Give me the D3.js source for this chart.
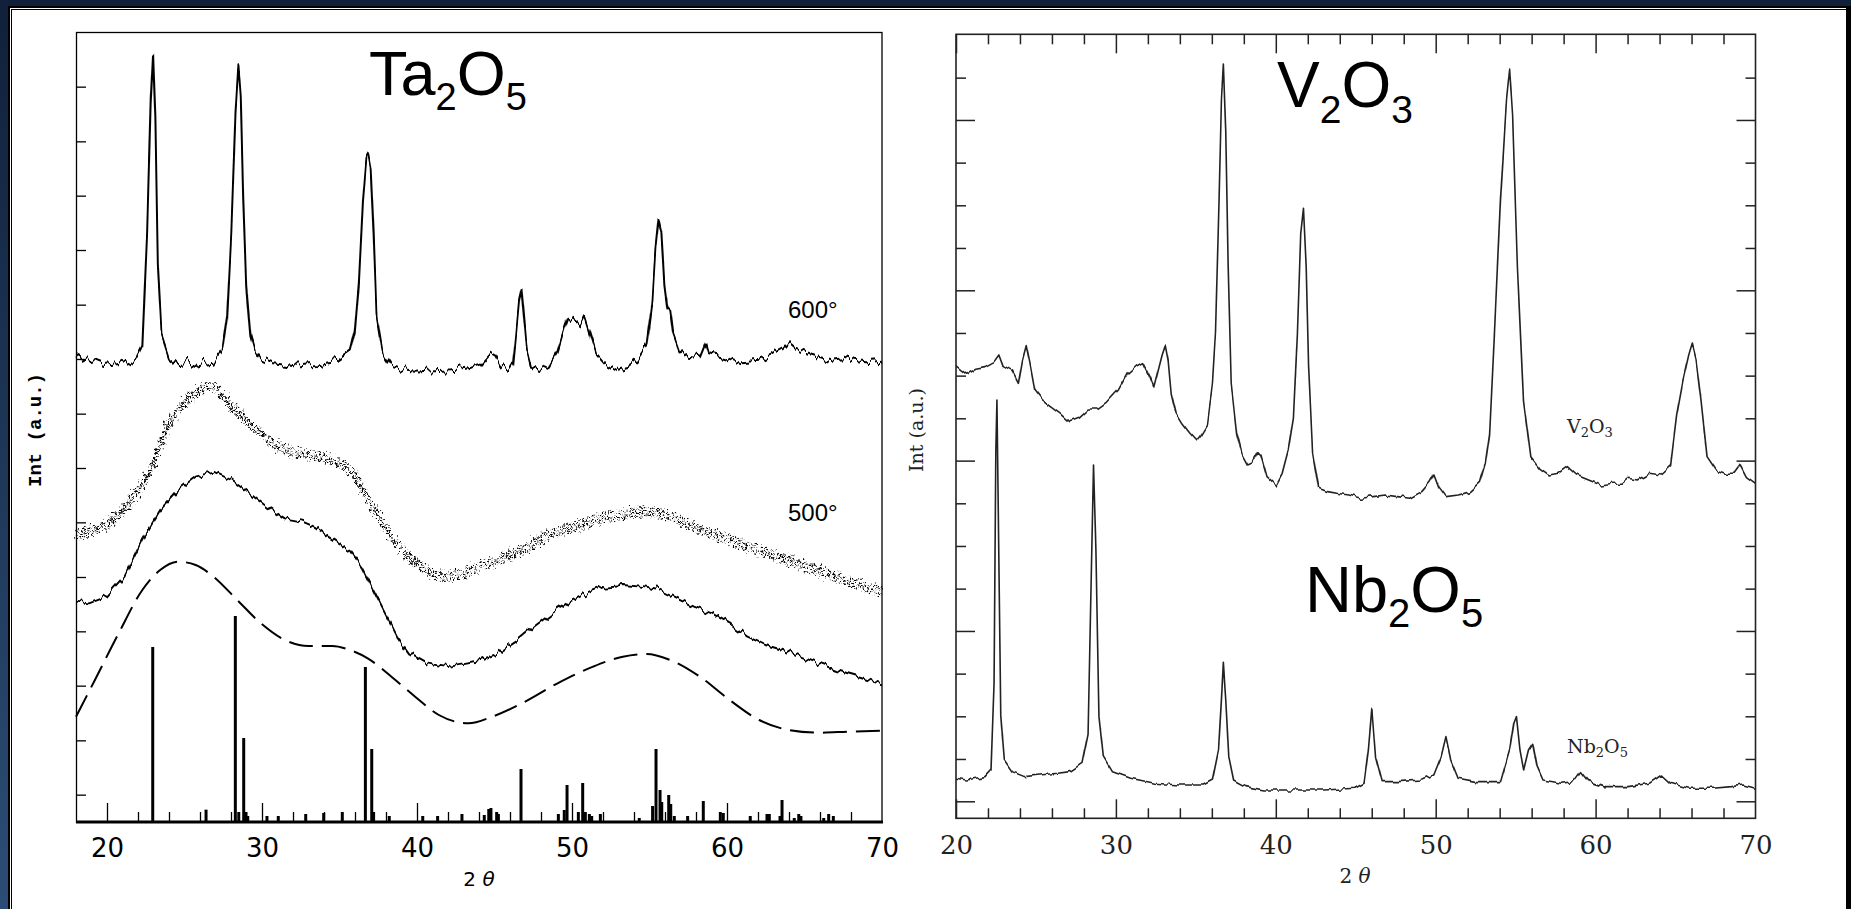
<!DOCTYPE html>
<html><head><meta charset="utf-8">
<script src="https://cdn.jsdelivr.net/npm/d3@7"></script>
<style>body{margin:0;background:#fff;overflow:hidden}</style>
</head><body>
<svg id="c" width="1851" height="909"></svg>
<script>
// ---------------- LEFT PANEL (Ta2O5) ----------------
const ta600X = [18.0,18.6,19.22,19.8,20.75,21.3,21.9,22.28,22.59,22.82,22.97,23.12,23.28,23.51,24.0,24.58,25.2,25.72,26.3,26.87,27.45,27.75,28.02,28.29,28.48,28.63,28.79,28.98,29.25,29.55,29.93,30.7,31.5,32.23,33.0,33.76,34.3,34.91,35.67,35.98,36.25,36.51,36.74,36.86,37.01,37.2,37.39,37.78,38.35,39.1,39.88,40.6,41.41,42.2,42.94,43.5,44.09,44.67,45.05,45.43,45.93,46.2,46.39,46.59,46.74,46.89,47.08,47.35,47.92,48.5,49.07,49.45,49.76,50.22,50.5,50.79,51.17,51.56,52.13,52.9,53.66,54.24,54.81,55.19,55.38,55.58,55.77,55.96,56.15,56.34,56.53,56.91,57.49,58.25,58.64,58.83,59.78,60.93,62.08,62.84,63.61,63.99,64.38,65.14,65.91,66.67,67.44,68.2,68.97,70.0];
const ta600Y = [1401,1386,1391,1380,1386,1378,1391,1426,1766,2166,2306,2116,1666,1466,1396,1376,1380,1371,1378,1381,1416,1516,1766,2116,2261,2166,1866,1616,1466,1416,1391,1376,1372,1366,1370,1371,1376,1381,1406,1466,1616,1866,1996,2006,1966,1766,1516,1406,1366,1355,1351,1354,1356,1358,1361,1366,1376,1406,1396,1366,1356,1376,1466,1566,1596,1516,1416,1366,1356,1371,1416,1476,1516,1506,1495,1521,1466,1406,1376,1356,1366,1386,1426,1566,1716,1806,1766,1616,1546,1536,1466,1416,1396,1391,1436,1406,1396,1376,1381,1396,1416,1436,1421,1406,1396,1386,1391,1381,1376,1381];

const ta500dotX = [18.0,19.22,20.75,21.9,23.05,23.81,24.58,25.72,26.68,27.64,29.17,30.7,32.23,33.76,34.91,36.05,36.82,37.58,38.35,39.49,40.64,41.6,42.75,43.71,45.24,46.77,48.3,49.83,51.36,52.9,54.43,55.58,57.11,58.64,60.17,61.7,63.23,64.76,66.67,68.58,70.0];
const ta500dotY = [861,876,921,986,1080,1176,1236,1286,1311,1266,1196,1136,1106,1096,1076,1036,966,916,856,796,756,736,741,761,786,816,856,881,906,921,931,926,901,871,846,821,796,771,741,711,691];

const taSolidX = [18.0,18.84,19.99,21.13,22.28,23.43,24.58,25.72,26.87,28.02,29.17,30.32,31.47,32.61,33.38,34.53,35.67,36.44,37.2,37.97,38.73,39.49,40.64,41.79,42.94,44.09,45.24,46.39,47.54,48.69,49.83,50.98,52.13,53.28,54.43,55.58,56.72,57.87,59.02,60.17,61.32,62.47,63.61,64.76,65.91,67.06,68.2,70.0];
const taSolidY = [661,656,676,736,846,936,996,1036,1051,1026,986,946,911,901,886,851,816,766,696,626,556,506,476,466,476,486,506,541,586,626,661,686,706,711,706,696,671,646,626,596,556,531,516,496,476,456,441,416];

const taDashX = [18.0,19.22,20.75,22.28,23.43,24.58,25.72,26.87,28.4,29.93,31.47,33.0,34.53,35.67,36.82,38.35,39.88,41.41,43.32,44.86,46.77,49.07,51.36,53.28,54.81,56.34,58.25,60.17,62.08,63.99,65.91,67.82,70.0];
const taDashY = [316,426,566,696,756,781,771,736,666,596,546,528,528,516,491,436,376,321,296,316,356,416,466,496,504,486,436,366,306,276,268,271,274];

const stickX = [22.95,26.39,28.28,28.5,28.82,28.97,29.08,30.32,31.05,32.82,33.98,35.18,36.67,37.08,37.2,38.21,40.37,41.33,42.9,44.34,44.63,44.77,45.14,45.25,46.71,49.12,49.5,49.68,50.41,50.69,50.86,51.12,51.27,51.83,54.34,55.2,55.42,55.68,55.79,56.24,56.37,56.6,57.46,58.47,59.57,59.76,61.5,62.58,62.73,63.42,63.55,64.34,64.63,64.77,66.24,66.56,66.86];
const stickH = [525,37,618,30,252,30,18,18,18,24,27,30,465,219,30,18,18,18,24,21,39,42,30,24,159,24,36,111,30,117,30,24,18,24,12,48,219,96,60,81,54,18,18,63,30,27,18,24,24,18,66,12,24,18,12,24,18];

const leftYTicks = [82,245,409,572,735,899,1062,1225,1389,1552,1716,1879,2042,2206];
const leftXLabels = [20,30,40,50,60,70];

// ---------------- RIGHT PANEL (V2O3 / Nb2O5) ----------------
const v2o3X = [20.0,20.67,21.24,21.81,22.38,22.68,22.95,23.52,23.9,24.16,24.39,24.62,24.92,25.41,25.98,26.55,27.12,27.69,28.26,28.83,29.4,30.16,30.72,31.29,31.67,32.13,32.36,32.89,33.08,33.27,33.46,33.76,34.14,34.63,35.01,35.35,35.73,36.04,36.23,36.45,36.6,36.72,36.87,37.02,37.21,37.55,37.9,38.24,38.5,38.88,39.07,39.45,40.02,40.4,40.78,41.1,41.35,41.56,41.73,41.9,42.05,42.3,42.68,43.24,43.81,44.57,45.33,46.09,46.85,47.61,48.37,49.13,49.58,49.89,50.19,50.65,51.41,52.17,52.74,53.1,53.37,53.67,54.05,54.43,54.62,54.81,55.11,55.49,55.95,56.52,57.09,57.66,58.23,58.8,59.56,60.32,61.08,61.65,62.03,62.6,63.36,64.12,64.69,65.07,65.45,65.83,66.05,66.28,66.59,66.97,67.53,68.1,68.67,69.05,69.43,70.0];
const v2o3Y = [1360,1335,1350,1355,1370,1390,1355,1340,1305,1375,1418,1365,1285,1255,1235,1215,1190,1200,1225,1225,1245,1285,1335,1360,1370,1325,1295,1395,1423,1375,1275,1215,1185,1155,1135,1155,1185,1305,1455,1855,2155,2260,2055,1655,1305,1155,1090,1060,1065,1100,1090,1025,1000,1035,1105,1200,1455,1755,1830,1655,1355,1100,990,980,975,970,960,965,970,965,960,980,1005,1033,995,965,970,980,1005,1065,1155,1455,1855,2155,2245,2105,1655,1255,1085,1050,1030,1035,1055,1030,1015,1000,1005,1005,1020,1015,1035,1030,1055,1205,1305,1385,1420,1375,1255,1085,1045,1035,1035,1060,1025,1005];

const nb2o5X = [20.0,20.67,21.24,21.81,22.19,22.38,22.49,22.56,22.65,22.8,23.02,23.52,24.28,25.23,26.37,27.12,27.88,28.26,28.45,28.6,28.75,28.94,29.21,29.78,30.92,32.43,33.95,35.47,36.04,36.42,36.6,36.72,36.87,37.06,37.36,38.12,39.26,41.16,43.05,44.95,45.52,45.79,46.01,46.24,46.65,47.61,49.13,49.88,50.34,50.64,50.94,51.4,52.54,54.06,54.63,54.89,55.05,55.27,55.5,55.8,56.07,56.34,56.71,57.85,58.61,59.06,59.56,60.51,62.03,63.36,64.12,64.69,65.83,67.35,68.49,69.24,70.0];
const nb2o5Y = [120,115,120,125,145,405,1100,1255,900,305,175,140,125,130,135,140,165,255,705,1060,805,305,185,140,120,105,100,100,115,205,355,465,355,185,115,95,85,85,85,90,105,205,330,185,110,110,115,130,185,245,175,120,110,110,205,285,305,205,145,205,225,155,115,105,110,140,110,95,95,105,130,105,90,90,95,100,90];

const rightYTicks = [51,178,306,434,562,689,817,945,1073,1200,1328,1456,1584,1711,1839,1967,2095,2222];
const rightXLabels = [20,30,40,50,60,70];
const minorX = [22,24,26,28,32,34,36,38,42,44,46,48,52,54,56,58,62,64,66,68];
const majorX = [20,30,40,50,60];

// ---------------- DRAW ----------------
const svg = d3.select("#c");
const defs = svg.append("defs");
const g0 = defs.append("linearGradient").attr("id","navy").attr("x1",0).attr("y1",0).attr("x2",0).attr("y2",1);
g0.append("stop").attr("offset","0").attr("stop-color","#10203a");
g0.append("stop").attr("offset","1").attr("stop-color","#2b4d75");

// line-texture filters (vertical jitter only; data untouched)
function jitterFilter(id, fx, scale, seed){
  const f = defs.append("filter").attr("id",id).attr("filterUnits","userSpaceOnUse")
    .attr("x",0).attr("y",0).attr("width",1851).attr("height",909)
    .attr("color-interpolation-filters","sRGB");
  f.append("feTurbulence").attr("type","fractalNoise").attr("baseFrequency",fx+" 0.004")
    .attr("numOctaves",2).attr("seed",seed).attr("result","t");
  f.append("feColorMatrix").attr("in","t").attr("type","matrix")
    .attr("values","0 0 0 0 0.5  0 1 0 0 0  0 0 0 0 0  0 0 0 0 1").attr("result","m");
  f.append("feDisplacementMap").attr("in","SourceGraphic").attr("in2","m")
    .attr("scale",scale).attr("xChannelSelector","R").attr("yChannelSelector","G");
}
jitterFilter("j600",0.22,16,3);
jitterFilter("jsol",0.2,11,7);
jitterFilter("jv",0.12,9,11);
jitterFilter("jn",0.14,7,5);
const fd = defs.append("filter").attr("id","scatter").attr("filterUnits","userSpaceOnUse")
  .attr("x",0).attr("y",0).attr("width",1851).attr("height",909).attr("color-interpolation-filters","sRGB");
fd.append("feTurbulence").attr("type","fractalNoise").attr("baseFrequency","0.35 0.35").attr("numOctaves",1).attr("seed",9).attr("result","t");
fd.append("feDisplacementMap").attr("in","SourceGraphic").attr("in2","t").attr("scale",14).attr("xChannelSelector","R").attr("yChannelSelector","G");

svg.append("rect").attr("width",1851).attr("height",909).attr("fill","url(#navy)");
svg.append("rect").attr("x",8).attr("y",6).attr("width",1843).attr("height",903).attr("fill","#000");
svg.append("rect").attr("x",10).attr("y",8).attr("width",1836).attr("height",901).attr("fill","#fff");
svg.append("rect").attr("x",11).attr("y",9).attr("width",1835).attr("height",900).attr("fill","#000");
svg.append("rect").attr("x",12).attr("y",10).attr("width",1834).attr("height",899).attr("fill","#fff");

// ===== left panel =====
const lx = d3.scaleLinear().domain([18,70]).range([76,882]);
const ly = d3.scaleLinear().domain([0,2370]).range([822,32]);
const L = svg.append("g");

L.append("rect").attr("x",76.5).attr("y",32.5).attr("width",805.5).attr("height",789.5)
  .attr("fill","none").attr("stroke","#000").attr("stroke-width",1.3);

const yAxL = L.append("g").attr("transform","translate(76,0)")
  .call(d3.axisRight(ly).tickValues(leftYTicks).tickSize(10).tickFormat(""));
const xMinL = L.append("g").attr("transform","translate(0,822)")
  .call(d3.axisTop(lx).tickValues(minorX).tickSize(10).tickFormat(""));
const xMajL = L.append("g").attr("transform","translate(0,822)")
  .call(d3.axisTop(lx).tickValues(majorX).tickSize(19).tickFormat(""));
[yAxL,xMinL,xMajL].forEach(a=>{a.select(".domain").remove(); a.selectAll("line").attr("stroke","#000").attr("stroke-width",1.3);});

L.append("line").attr("x1",76).attr("x2",883).attr("y1",822).attr("y2",822).attr("stroke","#000").attr("stroke-width",2.8);

const xLabL = L.append("g").attr("transform","translate(0,822)")
  .call(d3.axisBottom(lx).tickValues(leftXLabels).tickSize(0).tickPadding(17).tickFormat(d3.format("d")));
xLabL.select(".domain").remove();
xLabL.selectAll("text").attr("font-family","DejaVu Sans").attr("font-size",26).attr("fill","#000");

// sticks
L.append("g").selectAll("line").data(stickX).join("line")
  .attr("x1",d=>lx(d)).attr("x2",d=>lx(d))
  .attr("y1",ly(0)).attr("y2",(d,i)=>ly(stickH[i]))
  .attr("stroke","#000").attr("stroke-width",3);

const lineL = (xs,ys,c)=> d3.line().curve(c||d3.curveLinear).x((d,i)=>lx(xs[i])).y((d,i)=>ly(ys[i]))(xs);

L.append("path").attr("d",lineL(taDashX,taDashY,d3.curveMonotoneX)).attr("fill","none")
  .attr("stroke","#000").attr("stroke-width",2).attr("stroke-dasharray","24,9");
L.append("path").attr("d",lineL(taSolidX,taSolidY)).attr("fill","none").attr("filter","url(#jsol)")
  .attr("stroke","#000").attr("stroke-width",1.9).attr("stroke-linejoin","round");
const dots = L.append("g").attr("filter","url(#scatter)");
[-4,-1.5,1.5,4].forEach((off,k)=>{
  dots.append("path").attr("d",lineL(ta500dotX,ta500dotY,d3.curveMonotoneX)).attr("fill","none")
    .attr("transform",`translate(0,${off})`)
    .attr("stroke","#000").attr("stroke-width",2).attr("stroke-dasharray","1.8,3.6")
    .attr("stroke-dashoffset",k*1.7);
});
L.append("path").attr("d",lineL(ta600X,ta600Y)).attr("fill","none").attr("filter","url(#j600)")
  .attr("stroke","#000").attr("stroke-width",2).attr("stroke-linejoin","round");

L.append("text").attr("x",788).attr("y",318).attr("font-family","Liberation Sans").attr("font-size",24).text("600°");
L.append("text").attr("x",788).attr("y",521).attr("font-family","Liberation Sans").attr("font-size",24).text("500°");

const tT = L.append("text").attr("x",369).attr("y",95).attr("font-family","Liberation Sans").attr("font-size",63);
tT.append("tspan").text("Ta");
tT.append("tspan").attr("font-size",38).attr("dy",15).text("2");
tT.append("tspan").attr("dy",-15).text("O");
tT.append("tspan").attr("font-size",38).attr("dy",15).text("5");

L.append("text").attr("transform","translate(41,430) rotate(-90)").attr("text-anchor","middle")
  .attr("font-family","Liberation Mono").attr("font-weight","bold").attr("font-size",19).text("Int (a.u.)");
const xtL = L.append("text").attr("x",479).attr("y",886).attr("text-anchor","middle")
  .attr("font-family","DejaVu Sans").attr("font-size",20);
xtL.append("tspan").text("2 ");
xtL.append("tspan").attr("font-style","italic").text("θ");

// ===== right panel =====
const rx = d3.scaleLinear().domain([20,70]).range([956,1755.5]);
const ry = d3.scaleLinear().domain([0,2352]).range([818.3,34.3]);
const R = svg.append("g");
const ink = "#222";

R.append("rect").attr("x",956).attr("y",34.3).attr("width",799.5).attr("height",784)
  .attr("fill","none").attr("stroke",ink).attr("stroke-width",1.6);

const majorY = rightYTicks.filter((d,i)=>i%4===0);
const minorY = rightYTicks.filter((d,i)=>i%4!==0);
const axR = [
  R.append("g").attr("transform","translate(956,0)").call(d3.axisRight(ry).tickValues(minorY).tickSize(10).tickFormat("")),
  R.append("g").attr("transform","translate(956,0)").call(d3.axisRight(ry).tickValues(majorY).tickSize(19).tickFormat("")),
  R.append("g").attr("transform","translate(1755.5,0)").call(d3.axisLeft(ry).tickValues(minorY).tickSize(10).tickFormat("")),
  R.append("g").attr("transform","translate(1755.5,0)").call(d3.axisLeft(ry).tickValues(majorY).tickSize(19).tickFormat("")),
  R.append("g").attr("transform","translate(0,34.3)").call(d3.axisBottom(rx).tickValues(minorX).tickSize(10).tickFormat("")),
  R.append("g").attr("transform","translate(0,34.3)").call(d3.axisBottom(rx).tickValues(majorX).tickSize(19).tickFormat("")),
  R.append("g").attr("transform","translate(0,818.3)").call(d3.axisTop(rx).tickValues(minorX).tickSize(10).tickFormat("")),
  R.append("g").attr("transform","translate(0,818.3)").call(d3.axisTop(rx).tickValues(majorX).tickSize(19).tickFormat(""))
];
axR.forEach(a=>{a.select(".domain").remove(); a.selectAll("line").attr("stroke",ink).attr("stroke-width",1.5);});

const xLabR = R.append("g").attr("transform","translate(0,818.3)")
  .call(d3.axisBottom(rx).tickValues(rightXLabels).tickSize(0).tickPadding(17).tickFormat(d3.format("d")));
xLabR.select(".domain").remove();
xLabR.selectAll("text").attr("font-family","DejaVu Serif").attr("font-size",26).attr("fill","#222");

const lineR = (xs,ys)=> d3.line().x((d,i)=>rx(xs[i])).y((d,i)=>ry(ys[i]))(xs);
R.append("path").attr("d",lineR(v2o3X,v2o3Y)).attr("fill","none").attr("filter","url(#jv)")
  .attr("stroke",ink).attr("stroke-width",1.6).attr("stroke-linejoin","round");
R.append("path").attr("d",lineR(nb2o5X,nb2o5Y)).attr("fill","none").attr("filter","url(#jn)")
  .attr("stroke",ink).attr("stroke-width",1.6).attr("stroke-linejoin","round");

const vT = R.append("text").attr("x",1277).attr("y",107).attr("font-family","Liberation Sans").attr("font-size",64);
vT.append("tspan").text("V");
vT.append("tspan").attr("font-size",39).attr("dy",16).text("2");
vT.append("tspan").attr("dy",-16).text("O");
vT.append("tspan").attr("font-size",39).attr("dy",16).text("3");

const nT = R.append("text").attr("x",1305).attr("y",612).attr("font-family","Liberation Sans").attr("font-size",65);
nT.append("tspan").text("Nb");
nT.append("tspan").attr("font-size",40).attr("dy",15).text("2");
nT.append("tspan").attr("dy",-15).text("O");
nT.append("tspan").attr("font-size",40).attr("dy",15).text("5");

const sv = R.append("text").attr("x",1567).attr("y",433).attr("font-family","DejaVu Serif").attr("font-size",19).attr("fill",ink);
sv.append("tspan").text("V"); sv.append("tspan").attr("font-size",13).attr("dy",4).text("2");
sv.append("tspan").attr("dy",-4).text("O"); sv.append("tspan").attr("font-size",13).attr("dy",4).text("3");
const sn = R.append("text").attr("x",1567).attr("y",753).attr("font-family","DejaVu Serif").attr("font-size",19).attr("fill",ink);
sn.append("tspan").text("Nb"); sn.append("tspan").attr("font-size",13).attr("dy",4).text("2");
sn.append("tspan").attr("dy",-4).text("O"); sn.append("tspan").attr("font-size",13).attr("dy",4).text("5");

R.append("text").attr("transform","translate(923,430) rotate(-90)").attr("text-anchor","middle")
  .attr("font-family","DejaVu Serif").attr("font-size",19).attr("fill",ink).text("Int (a.u.)");
const xtR = R.append("text").attr("x",1355).attr("y",883).attr("text-anchor","middle")
  .attr("font-family","DejaVu Serif").attr("font-size",20).attr("fill",ink);
xtR.append("tspan").text("2 ");
xtR.append("tspan").attr("font-style","italic").text("θ");
</script>
</body></html>
